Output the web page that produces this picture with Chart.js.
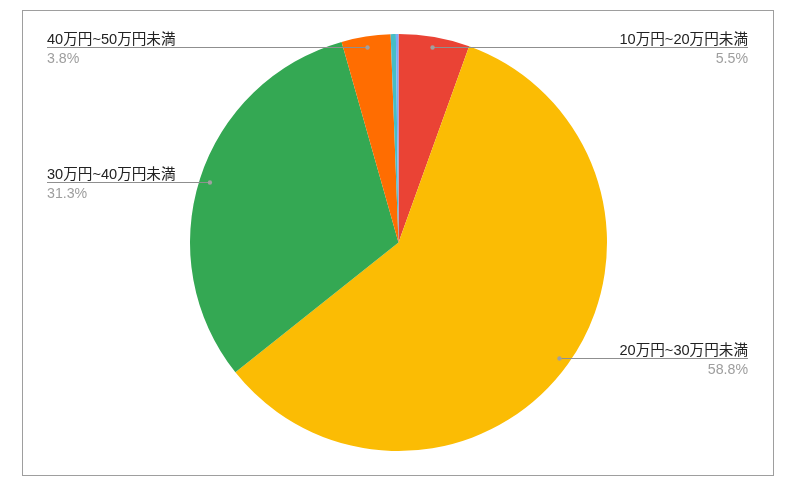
<!DOCTYPE html>
<html><head><meta charset="utf-8">
<script src="https://cdn.jsdelivr.net/npm/chart.js@4"></script>
<style>html,body{margin:0;padding:0;background:#fff;overflow:hidden;}</style>
</head><body>
<canvas id="c" width="791" height="494"></canvas>
<script>
const categories = ['10万円~20万円未満','20万円~30万円未満','30万円~40万円未満','40万円~50万円未満','50万円~60万円未満','60万円以上'];
const shares = [5.5, 58.8, 31.3, 3.8, 0.4, 0.2];
const percentLabels = ['5.5%','58.8%','31.3%','3.8%','0.4%','0.2%'];
const sliceColors = ['#ea4335','#fbbc04','#34a853','#ff6d01','#46bdc6','#7baaf7'];

const FONT = '"Liberation Sans", Arial, "Noto Sans CJK JP", sans-serif';

const frameAndLabels = {
  id: 'frameAndLabels',
  beforeDraw(chart) {
    const ctx = chart.ctx;
    ctx.save();
    ctx.fillStyle = '#ffffff';
    ctx.fillRect(0, 0, chart.width, chart.height);
    ctx.strokeStyle = '#9e9e9e';
    ctx.lineWidth = 1;
    ctx.strokeRect(22.5, 10.5, 751, 465);
    ctx.restore();
  },
  afterDatasetsDraw(chart) {
    const ctx = chart.ctx;
    const meta = chart.getDatasetMeta(0);
    ctx.save();
    meta.data.forEach((arc, i) => {
      if (shares[i] < 1) return;
      const p = arc.getProps(['x','y','startAngle','endAngle','outerRadius'], true);
      const mid = (p.startAngle + p.endAngle) / 2;
      const px = p.x + Math.cos(mid) * p.outerRadius * 0.95;
      const py = Math.round(p.y + Math.sin(mid) * p.outerRadius * 0.95) + 0.5;
      const left = px < p.x;
      const endX = left ? 47 : 748;
      ctx.strokeStyle = '#8f8f8f';
      ctx.lineWidth = 1;
      ctx.beginPath();
      ctx.moveTo(px, py);
      ctx.lineTo(endX, py);
      ctx.stroke();
      ctx.fillStyle = '#a0a0a0';
      ctx.beginPath();
      ctx.arc(px, py, 2.2, 0, Math.PI * 2);
      ctx.fill();
      ctx.textAlign = left ? 'left' : 'right';
      ctx.textBaseline = 'alphabetic';
      ctx.font = '14.6px ' + FONT;
      ctx.fillStyle = '#222222';
      ctx.fillText(categories[i], endX, py - 4);
      ctx.font = '14.2px ' + FONT;
      ctx.fillStyle = '#9e9e9e';
      ctx.fillText(percentLabels[i], endX, py + 15);
    });
    ctx.restore();
  }
};

new Chart(document.getElementById('c'), {
  type: 'pie',
  data: {
    labels: categories,
    datasets: [{
      data: shares,
      backgroundColor: sliceColors,
      borderWidth: 0
    }]
  },
  options: {
    responsive: false,
    animation: false,
    devicePixelRatio: 1,
    layout: { padding: { left: 190, right: 184, top: 34, bottom: 43 } },
    plugins: { legend: { display: false }, tooltip: { enabled: false } }
  },
  plugins: [frameAndLabels]
});
</script>
</body></html>
